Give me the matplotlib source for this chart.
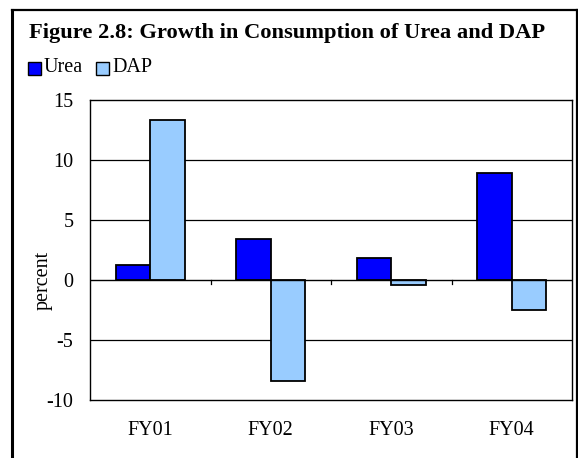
import numpy as np
import matplotlib.pyplot as plt
from matplotlib.lines import Line2D
from matplotlib.patches import Rectangle

years = ['FY01', 'FY02', 'FY03', 'FY04']
urea = [1.25, 3.4, 1.85, 8.9]
dap = [13.3, -8.45, -0.45, -2.5]

plt.rcParams['font.family'] = ['Liberation Serif', 'DejaVu Serif']

W, H = 578, 458
fig = plt.figure(figsize=(W / 100, H / 100), dpi=100)
ax = fig.add_axes([90 / W, 1 - 400 / H, 482 / W, 300 / H])

x = np.arange(len(years))
bw = 0.285
ax.bar(x - bw / 2, urea, bw, color='#0000ff', edgecolor='black', linewidth=1.3, zorder=3)
ax.bar(x + bw / 2, dap, bw, color='#99ccff', edgecolor='black', linewidth=1.3, zorder=3)

ax.set_xlim(-0.5, 3.5)
ax.set_ylim(-10, 15)
ax.set_yticks([-10, -5, 0, 5, 10, 15])
ax.set_yticklabels(['-10', '-5', '0', '5', '10', '15'])
ax.tick_params(axis='y', length=0, labelsize=14.5, pad=12)
ax.set_xticks(x)
ax.set_xticklabels(years)
ax.tick_params(axis='x', length=0, labelsize=14.5, pad=15)
for y in [-5, 5, 10]:
    ax.axhline(y, color='black', linewidth=0.9, zorder=1)
ax.axhline(0, color='black', linewidth=1.0, zorder=4)
# small ticks on the zero line between categories
for b in [0.5, 1.5, 2.5]:
    ax.plot([b, b], [0, -0.35], color='black', linewidth=0.9, zorder=4)
for s in ax.spines.values():
    s.set_linewidth(1.0)

fig.text(43 / W, 1 - 280 / H, 'percent', fontsize=14.5, rotation=90,
         va='center', ha='center')

fig.text(29 / W, 1 - 33 / H, 'Figure 2.8: Growth in Consumption of Urea and DAP',
         fontsize=16.2, fontweight='bold', va='center', ha='left')

# legend
for lx, label, col in [(28, 'Urea', '#0000ff'), (96, 'DAP', '#99ccff')]:
    fig.patches.append(Rectangle((lx / W, 1 - 75 / H), 13 / W, 13 / H,
                                 transform=fig.transFigure, facecolor=col,
                                 edgecolor='black', linewidth=1.0))
    fig.text((lx + 16) / W, 1 - 68 / H, label, fontsize=14.5, va='center', ha='left')

# outer border
fig.add_artist(Line2D([12.5 / W, 12.5 / W], [0, 1 - 10 / H], transform=fig.transFigure,
                      color='black', linewidth=2.2))
fig.add_artist(Line2D([12.5 / W, 577 / W], [1 - 10 / H, 1 - 10 / H], transform=fig.transFigure,
                      color='black', linewidth=1.6))
fig.add_artist(Line2D([577 / W, 577 / W], [0, 1 - 10 / H], transform=fig.transFigure,
                      color='black', linewidth=1.6))

fig.savefig('out.png', dpi=100)
